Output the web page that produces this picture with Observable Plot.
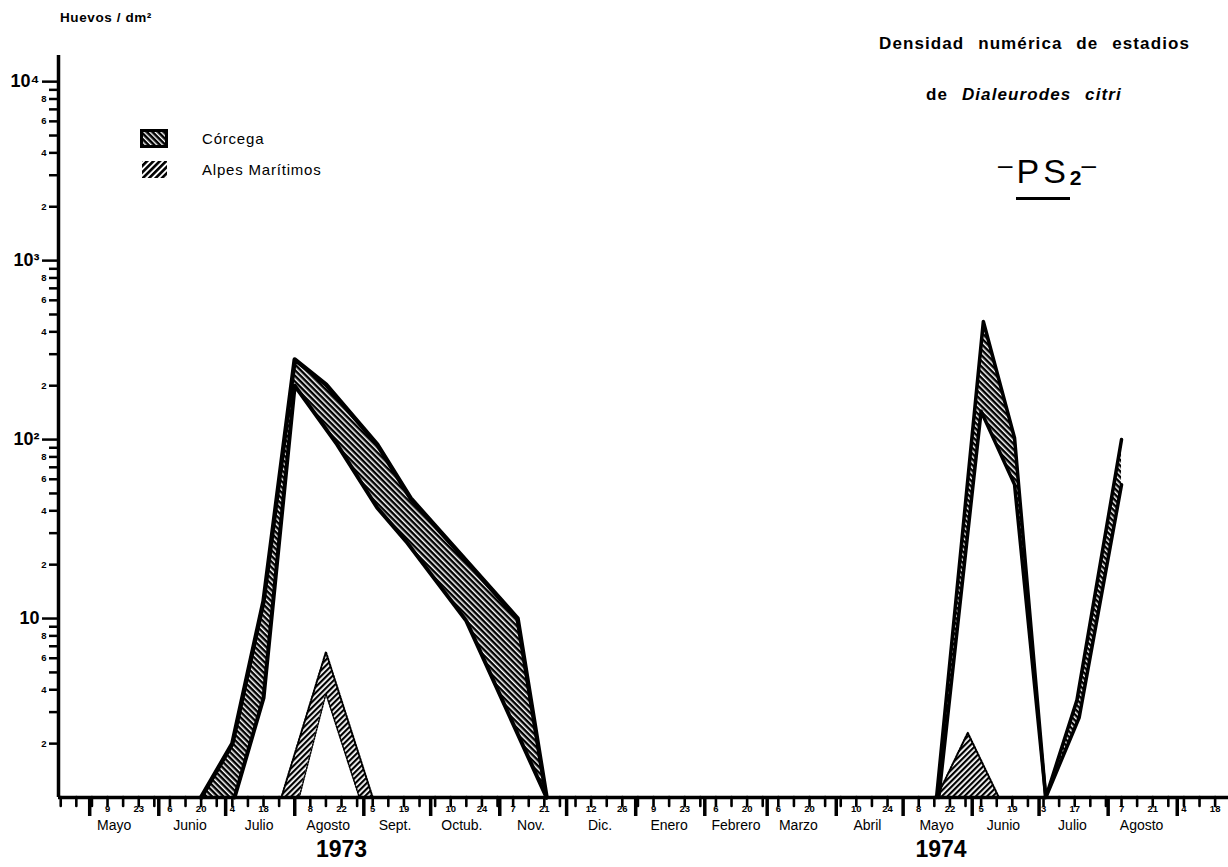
<!DOCTYPE html>
<html lang="es"><head><meta charset="utf-8">
<script src="https://cdn.jsdelivr.net/npm/d3@7"></script>
<script src="https://cdn.jsdelivr.net/npm/@observablehq/plot@0.6"></script>
<style>
html,body{margin:0;padding:0;background:#fff;}
#wrap{position:relative;width:1228px;height:867px;overflow:hidden;font-family:"Liberation Sans",Arial,Helvetica,sans-serif;color:#000;}
#chart{position:absolute;left:0;top:0;}
.t{position:absolute;white-space:nowrap;line-height:1;}
.leg{position:absolute;display:flex;align-items:center;font-size:15px;letter-spacing:0.8px;}
.leg svg{margin-right:34px;}
</style></head><body>
<div id="wrap">
<div id="chart"></div>
<div class="t" style="left:60px;top:11px;font-size:13.5px;font-weight:bold;letter-spacing:0.6px;">Huevos / dm²</div>
<div class="t" style="right:38px;top:35px;font-size:17px;font-weight:bold;word-spacing:8px;letter-spacing:1.1px;">Densidad numérica de estadios</div>
<div class="t" style="left:926px;top:86px;font-size:17px;font-weight:bold;word-spacing:8px;letter-spacing:1.1px;">de <i>Dialeurodes citri</i></div>
<div class="t" style="left:998px;top:154px;font-size:34px;">
  <span style="font-size:26px;position:relative;top:-9px;">–</span><span style="letter-spacing:4px;display:inline-block;border-bottom:3px solid #000;padding-bottom:9px;line-height:1;margin-left:4px;">PS</span><span style="font-size:21px;font-weight:bold;position:relative;top:2px;">2</span><span style="font-size:26px;position:relative;top:-9px;">–</span>
</div>
<div class="leg" style="left:140px;top:129px;">
  <svg width="28" height="19"><defs><pattern id="legCor" patternUnits="userSpaceOnUse" width="4" height="4" patternTransform="rotate(-45)"><rect width="4" height="4" fill="#000"/><rect width="1.4" height="4" fill="#fff"/></pattern></defs><rect x="1.5" y="1.5" width="25" height="16" fill="url(#legCor)" stroke="#000" stroke-width="3"/></svg>
  <span>Córcega</span>
</div>
<div class="leg" style="left:140px;top:160px;">
  <svg width="28" height="19"><defs><pattern id="legAlp" patternUnits="userSpaceOnUse" width="4.5" height="4.5" patternTransform="rotate(45)"><rect width="4.5" height="4.5" fill="#fff"/><rect width="2.6" height="4.5" fill="#000"/></pattern></defs><rect x="2" y="1" width="25" height="17" fill="url(#legAlp)"/></svg>
  <span>Alpes Marítimos</span>
</div>
</div>
<script>
// ---------- data (Huevos / dm²) ----------
// Córcega 1973: upper and lower edge of the band
const corUpper1973Dates  = ["1973-06-20","1973-07-04","1973-07-18","1973-08-01","1973-08-15","1973-09-07","1973-09-22","1973-11-09","1973-11-22"];
const corUpper1973Values = [1, 2, 12.5, 280, 203, 94, 47, 10, 1];
const corLower1973Dates  = ["1973-07-05","1973-07-05","1973-07-18","1973-08-01","1973-08-20","1973-09-07","1973-09-20","1973-10-17","1973-11-22"];
const corLower1973Values = [1, 1, 3.6, 200, 94, 41.6, 27, 9.7, 1];
// Córcega 1974
const corUpper1974Dates  = ["1974-05-16","1974-06-06","1974-06-20","1974-07-04","1974-07-18","1974-08-07"];
const corUpper1974Values = [1, 457, 102, 1, 3.5, 100];
const corLower1974Dates  = ["1974-05-17","1974-06-05","1974-06-20","1974-07-04","1974-07-19","1974-08-07"];
const corLower1974Values = [1, 144, 56, 1, 2.8, 56];
// Alpes Marítimos 1973
const alpUpper1973Dates  = ["1973-07-26","1973-08-15","1973-09-05"];
const alpUpper1973Values = [1, 6.5, 1];
const alpLower1973Dates  = ["1973-08-03","1973-08-15","1973-08-30"];
const alpLower1973Values = [1, 3.8, 1];
// Alpes Marítimos 1974
const alpUpper1974Dates  = ["1974-05-16","1974-05-30","1974-06-13"];
const alpUpper1974Values = [1, 2.3, 1];
const alpLower1974Dates  = ["1974-05-16","1974-05-30","1974-06-13"];
const alpLower1974Values = [1, 1, 1];

// ---------- axis labels ----------
const xDomain = ["1973-04-17", "1974-09-24"];
const sampleLabelDates = ["1973-05-09","1973-05-23","1973-06-06","1973-06-20","1973-07-04","1973-07-18","1973-08-08","1973-08-22","1973-09-05","1973-09-19","1973-10-10","1973-10-24","1973-11-07","1973-11-21","1973-12-12","1973-12-26",
  "1974-01-09","1974-01-23","1974-02-06","1974-02-20","1974-03-06","1974-03-20","1974-04-10","1974-04-24","1974-05-08","1974-05-22","1974-06-05","1974-06-19","1974-07-03","1974-07-17","1974-08-07","1974-08-21","1974-09-04","1974-09-18"];
const monthNames = ["Mayo","Junio","Julio","Agosto","Sept.","Octub.","Nov.","Dic.","Enero","Febrero","Marzo","Abril","Mayo","Junio","Julio","Agosto"];
const monthLabelDates = ["1973-05-12","1973-06-15","1973-07-16","1973-08-16","1973-09-15","1973-10-15","1973-11-15","1973-12-16","1974-01-16","1974-02-15","1974-03-15","1974-04-15","1974-05-16","1974-06-15","1974-07-16","1974-08-16"];
const yearNames = ["1973", "1974"];
const yearLabelDates = ["1973-08-22", "1974-05-18"];
const yMajorTicks = [10, 100, 1000, 10000];
const yMajorLabels = ["10", "10²", "10³", "10⁴"];
const yMantissas = [2, 3, 4, 5, 6, 7, 8, 9];
const yLabeledMantissas = [2, 4, 6, 8];
const yDecades = [1, 10, 100, 1000];

// ---------- tables ----------
const P = s => new Date(s);
const band = (uD, uV, lD, lV) => uD.map((d, i) => ({x1: P(d), y1: uV[i], x2: P(lD[i]), y2: lV[i]}));
const edge = (D, V) => D.map((d, i) => ({date: P(d), value: V[i]}));
const cor73 = band(corUpper1973Dates, corUpper1973Values, corLower1973Dates, corLower1973Values);
const cor74 = band(corUpper1974Dates, corUpper1974Values, corLower1974Dates, corLower1974Values);
const alp73 = band(alpUpper1973Dates, alpUpper1973Values, alpLower1973Dates, alpLower1973Values);
const alp74 = band(alpUpper1974Dates, alpUpper1974Values, alpLower1974Dates, alpLower1974Values);

const x0 = P(xDomain[0]), x1 = P(xDomain[1]);
const monthTicks = d3.utcMonth.range(d3.utcMonth.ceil(x0), x1);
const weekTicks = d3.utcWednesday.range(x0, x1).filter(w => !monthTicks.some(m => +m === +w));
const sampleTable = sampleLabelDates.map(d => ({date: P(d), text: String(P(d).getUTCDate())}));
const monthTable = monthNames.map((n, i) => ({date: P(monthLabelDates[i]), text: n}));
const yearTable = yearNames.map((n, i) => ({date: P(yearLabelDates[i]), text: n}));
const yMinorTicks = yDecades.flatMap(d => yMantissas.map(m => m * d));
const yMinorLabelTable = yDecades.flatMap(d => yLabeledMantissas.map(m => ({v: m * d, text: String(m)})));
const yMajorLabelTable = yMajorTicks.map((v, i) => ({v, text: yMajorLabels[i]}));

const areaOpts = {x1: "x1", y1: "y1", x2: "x2", y2: "y2"};
const FONT = "Liberation Sans, Arial, sans-serif";

const plot = Plot.plot({
  width: 1228, height: 867,
  marginLeft: 58, marginRight: 0, marginTop: 55, marginBottom: 70,
  x: {type: "utc", domain: [x0, x1]},
  y: {type: "log", domain: [1, 14000]},
  style: {fontFamily: FONT, color: "#000", background: "transparent", overflow: "visible"},
  marks: [
    // bands
    Plot.area(alp73, {...areaOpts, fill: "url(#hatchAlp)"}),
    Plot.area(alp74, {...areaOpts, fill: "url(#hatchAlp)"}),
    Plot.line(edge(alpUpper1973Dates, alpUpper1973Values), {x: "date", y: "value", stroke: "#000", strokeWidth: 2, strokeDasharray: "1.5,1.5"}),
    Plot.line(edge(alpLower1973Dates, alpLower1973Values), {x: "date", y: "value", stroke: "#000", strokeWidth: 1.5, strokeDasharray: "1.5,1.5"}),
    Plot.line(edge(alpUpper1974Dates, alpUpper1974Values), {x: "date", y: "value", stroke: "#000", strokeWidth: 2, strokeDasharray: "1.5,1.5"}),
    Plot.area(cor73, {...areaOpts, fill: "url(#hatchCor)"}),
    Plot.area(cor74, {...areaOpts, fill: "url(#hatchCor)"}),
    Plot.line(edge(corUpper1973Dates, corUpper1973Values), {x: "date", y: "value", stroke: "#000", strokeWidth: 4.5, strokeLinejoin: "round"}),
    Plot.line(edge(corLower1973Dates, corLower1973Values), {x: "date", y: "value", stroke: "#000", strokeWidth: 4, strokeLinejoin: "round"}),
    Plot.line(edge(corUpper1974Dates, corUpper1974Values), {x: "date", y: "value", stroke: "#000", strokeWidth: 3.5, strokeLinejoin: "round"}),
    Plot.line(edge(corLower1974Dates, corLower1974Values), {x: "date", y: "value", stroke: "#000", strokeWidth: 3.5, strokeLinejoin: "round"}),
    // axes lines
    Plot.ruleX([x0], {stroke: "#000", strokeWidth: 3.5}),
    Plot.ruleY([1], {stroke: "#000", strokeWidth: 3.5}),
    // y axis ticks and labels
    Plot.axisY({ticks: yMajorTicks, tickSize: 16, tickFormat: () => "", strokeWidth: 2.5, label: null}),
    Plot.axisY({ticks: yMinorTicks, tickSize: 9, tickFormat: () => "", strokeWidth: 2.5, label: null}),
    Plot.text(yMajorLabelTable, {y: "v", text: "text", frameAnchor: "left", dx: -19, textAnchor: "end", fontSize: 18, fontWeight: "bold"}),
    Plot.text(yMinorLabelTable, {y: "v", text: "text", frameAnchor: "left", dx: -12, textAnchor: "end", fontSize: 9.5, fontWeight: 900}),
    // x axis ticks
    Plot.axisX({ticks: monthTicks, tickSize: 19, tickFormat: () => "", strokeWidth: 3.5, label: null}),
    Plot.axisX({ticks: weekTicks, tickSize: 9, tickFormat: () => "", strokeWidth: 2.6, strokeLinecap: "round", label: null}),
    Plot.text(sampleTable, {x: "date", text: "text", frameAnchor: "bottom", dy: 14, fontSize: 9.5, fontWeight: 900}),
    Plot.text(monthTable, {x: "date", text: "text", frameAnchor: "bottom", dy: 32, fontSize: 14}),
    Plot.text(yearTable, {x: "date", text: "text", frameAnchor: "bottom", dy: 59, fontSize: 23, fontWeight: "bold"})
  ]
});

// hatch patterns used by the bands
const svg = d3.select(plot);
const defs = svg.insert("defs", ":first-child");
const pc = defs.append("pattern").attr("id", "hatchCor").attr("patternUnits", "userSpaceOnUse")
  .attr("width", 4).attr("height", 4).attr("patternTransform", "rotate(-45)");
pc.append("rect").attr("width", 4).attr("height", 4).attr("fill", "#000");
pc.append("rect").attr("width", 1.5).attr("height", 4).attr("fill", "#fff");
const pa = defs.append("pattern").attr("id", "hatchAlp").attr("patternUnits", "userSpaceOnUse")
  .attr("width", 4).attr("height", 4).attr("patternTransform", "rotate(45)");
pa.append("rect").attr("width", 4).attr("height", 4).attr("fill", "#fff");
pa.append("rect").attr("width", 2.2).attr("height", 4).attr("fill", "#000");

document.getElementById("chart").appendChild(plot);
</script>
</body></html>
